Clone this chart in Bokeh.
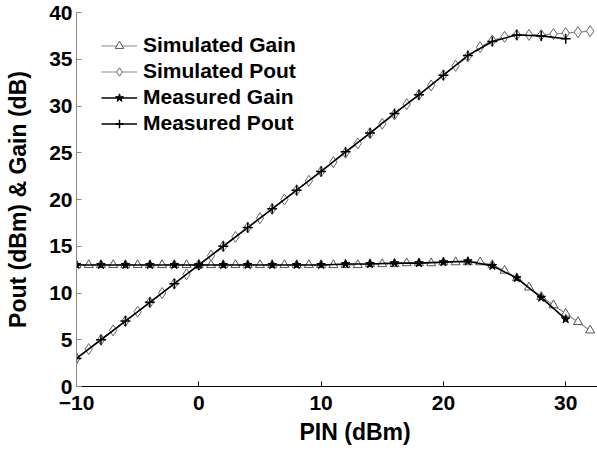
from bokeh.plotting import figure
from bokeh.models import Legend, LegendItem, FixedTicker, Range1d, Title
from bokeh.embed import file_html
from bokeh.resources import INLINE

# ---- data ----
pin_sim = list(range(-10, 33))
sim_gain = [13.0, 13.0, 13.0, 13.0, 13.0, 13.0, 13.0, 13.0, 13.0, 13.0, 13.0,
            13.0, 13.0, 13.0, 13.0, 13.0, 13.0, 13.0, 13.0, 13.0, 13.0,
            13.0, 13.0, 13.0, 13.1, 13.1, 13.1, 13.2, 13.2, 13.2, 13.3,
            13.3, 13.3, 13.3, 13.0, 12.4, 11.6, 10.6, 9.6, 8.7, 7.8, 6.9, 6.0]
sim_pout = [3.0, 4.0, 5.0, 6.0, 7.0, 8.0, 9.0, 10.0, 11.0, 12.0, 13.0,
            14.0, 15.0, 16.0, 17.0, 18.0, 19.0, 20.0, 21.0, 22.0, 23.0,
            24.0, 25.0, 26.0, 27.1, 28.1, 29.1, 30.2, 31.2, 32.2, 33.3,
            34.3, 35.3, 36.3, 37.0, 37.4, 37.6, 37.6, 37.6, 37.7, 37.8, 37.9, 38.0]

pin_meas = list(range(-10, 31, 2))
meas_gain = [13.0, 13.0, 13.0, 13.0, 13.0, 13.0, 13.0, 13.0, 13.0, 13.0,
             13.0, 13.1, 13.1, 13.2, 13.2, 13.3, 13.4, 12.9, 11.6, 9.5, 7.2]
meas_pout = [3.0, 5.0, 7.0, 9.0, 11.0, 13.0, 15.0, 17.0, 19.0, 21.0,
             23.0, 25.1, 27.1, 29.2, 31.2, 33.3, 35.4, 36.9, 37.6, 37.5, 37.2]

x_ticks = [-10, 0, 10, 20, 30]
y_ticks = [0, 5, 10, 15, 20, 25, 30, 35, 40]
x_title = "PIN (dBm)"
y_title = "Pout (dBm) & Gain (dB)"

FONT = "Liberation Sans"

p = figure(width=597, height=450, output_backend="svg", toolbar_location=None,
           x_range=Range1d(-10, 32.6), y_range=Range1d(0, 40),
           min_border_left=76, min_border_right=0, min_border_top=12,
           min_border_bottom=64)
p.grid.visible = False
p.outline_line_color = None
p.background_fill_color = "white"
p.border_fill_color = "white"

GRAY = "#8a8a8a"

l1 = p.line(pin_sim, sim_gain, line_color=GRAY, line_width=1.2)
m1 = p.scatter(pin_sim, sim_gain, marker="triangle", size=9, line_color="#555555",
               fill_color="white", line_width=1)
l2 = p.line(pin_sim, sim_pout, line_color=GRAY, line_width=1.2)
m2 = p.scatter(pin_sim, sim_pout, marker="diamond", size=11, line_color="#666666",
               fill_color="white", line_width=1)
l3 = p.line(pin_meas, meas_gain, line_color="black", line_width=1.6)
m3 = p.scatter(pin_meas, meas_gain, marker="star", size=9, line_color="black",
               fill_color="black", line_width=1)
l4 = p.line(pin_meas, meas_pout, line_color="black", line_width=1.6)
m4 = p.scatter(pin_meas, meas_pout, marker="cross", size=10, line_color="black",
               line_width=1.5)

legend = Legend(items=[
    LegendItem(label="Simulated Gain", renderers=[l1, m1]),
    LegendItem(label="Simulated Pout", renderers=[l2, m2]),
    LegendItem(label="Measured Gain", renderers=[l3, m3]),
    LegendItem(label="Measured Pout", renderers=[l4, m4]),
], location=(25, 251))
legend.label_text_font = FONT
legend.label_text_font_style = "bold"
legend.label_text_font_size = "21px"
legend.label_text_color = "black"
legend.glyph_width = 36
legend.glyph_height = 21
legend.label_height = 21
legend.label_standoff = 6
legend.spacing = 2
legend.padding = 2
legend.margin = 0
legend.border_line_color = None
legend.background_fill_alpha = 0
p.add_layout(legend, "center")

for ax in (p.xaxis[0], p.yaxis[0]):
    ax.major_label_text_font = FONT
    ax.major_label_text_font_style = "bold"
    ax.major_label_text_font_size = "21px"
    ax.major_label_text_color = "black"
    ax.axis_label_text_font = FONT
    ax.axis_label_text_font_style = "bold"
    ax.axis_label_text_font_size = "23px"
    ax.axis_label_text_color = "black"
    ax.major_tick_in = 5
    ax.major_tick_out = 0
    ax.minor_tick_in = 0
    ax.minor_tick_out = 0
    ax.major_tick_line_color = "black"

p.xaxis.ticker = FixedTicker(ticks=x_ticks)
p.yaxis.ticker = FixedTicker(ticks=y_ticks)
p.yaxis.axis_label = y_title
p.xaxis.axis_line_color = "black"
p.yaxis.axis_line_color = "#888888"
p.yaxis.major_tick_line_color = "#888888"
p.xaxis.major_label_standoff = 9
p.yaxis.major_label_standoff = 4
p.yaxis.axis_label_standoff = 15

xt = Title(text=x_title, align="left", offset=223, standoff=9,
           text_font=FONT, text_font_style="bold", text_font_size="23px",
           text_color="black")
p.add_layout(xt, "below")

open("out.html", "w").write(file_html(p, INLINE))
